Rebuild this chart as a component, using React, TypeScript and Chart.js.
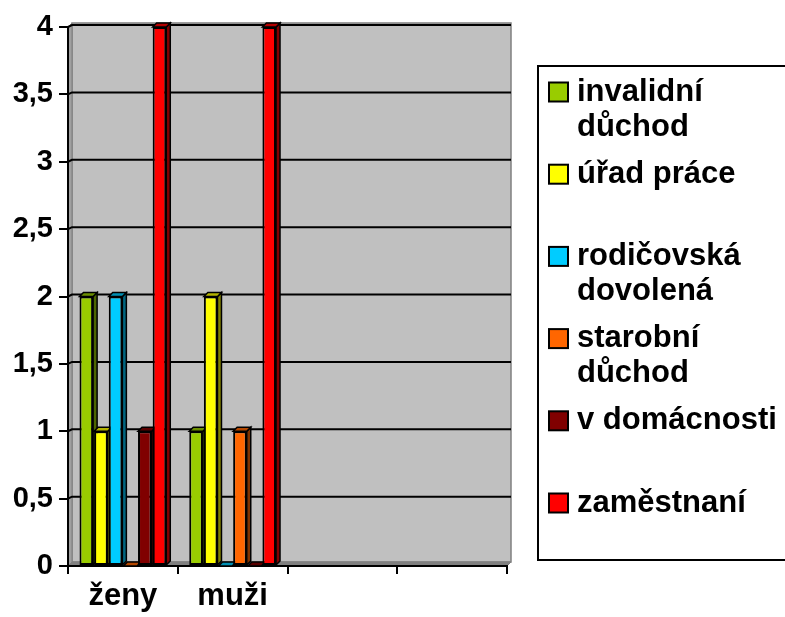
import { useEffect, useRef } from 'react';
import { Chart, registerables } from 'chart.js';

Chart.register(...registerables);

const categories = ['ženy', 'muži', '', ''];
const seriesNames = [
  'invalidní důchod',
  'úřad práce',
  'rodičovská dovolená',
  'starobní důchod',
  'v domácnosti',
  'zaměstnaní',
];
const seriesColors = ['#99CC00', '#FFFF00', '#00CCFF', '#FF6600', '#800000', '#FF0000'];
const invalidniDuchod = [2, 1, null, null];
const uradPrace = [1, 2, null, null];
const rodicovskaDovolena = [2, 0, null, null];
const starobniDuchod = [0, 1, null, null];
const vDomacnosti = [1, 0, null, null];
const zamestnani = [4, 4, null, null];
const seriesValues = [invalidniDuchod, uradPrace, rodicovskaDovolena, starobniDuchod, vDomacnosti, zamestnani];
const yMin = 0;
const yMax = 4;
const yStep = 0.5;

const FONT = 'Arial, "Liberation Sans", sans-serif';
const D = 4;

function shade(hex: string, f: number) {
  const n = parseInt(hex.slice(1), 16);
  const r = Math.round(((n >> 16) & 255) * f);
  const g = Math.round(((n >> 8) & 255) * f);
  const b = Math.round((n & 255) * f);
  return `rgb(${r},${g},${b})`;
}

function poly(ctx: CanvasRenderingContext2D, pts: number[][], fill: string, stroke?: string, lw = 1) {
  ctx.beginPath();
  ctx.moveTo(pts[0][0], pts[0][1]);
  for (let i = 1; i < pts.length; i++) ctx.lineTo(pts[i][0], pts[i][1]);
  ctx.closePath();
  ctx.fillStyle = fill;
  ctx.fill();
  if (stroke) {
    ctx.strokeStyle = stroke;
    ctx.lineWidth = lw;
    ctx.stroke();
  }
}

function wrap(ctx: CanvasRenderingContext2D, text: string, maxW: number) {
  const words = text.split(' ');
  const lines: string[] = [];
  let cur = '';
  for (const w of words) {
    const t = cur ? cur + ' ' + w : w;
    if (cur && ctx.measureText(t).width > maxW) {
      lines.push(cur);
      cur = w;
    } else cur = t;
  }
  if (cur) lines.push(cur);
  return lines;
}

const plugin3d = {
  id: 'excel3d',
  beforeDraw(chart: any) {
    const { ctx, chartArea: a } = chart;
    ctx.save();
    ctx.fillStyle = '#C0C0C0';
    ctx.fillRect(a.left + D, a.top - D, a.right - a.left, a.bottom - a.top);
    ctx.strokeStyle = '#808080';
    ctx.lineWidth = 1.5;
    ctx.strokeRect(a.left + D, a.top - D, a.right - a.left, a.bottom - a.top);
    poly(ctx, [[a.left, a.top], [a.left + D, a.top - D], [a.left + D, a.bottom - D], [a.left, a.bottom]], '#A0A0A0', '#808080', 1);
    poly(ctx, [[a.left, a.bottom], [a.left + D, a.bottom - D], [a.right + D, a.bottom - D], [a.right, a.bottom]], '#808080', '#808080', 1);
    const ys = chart.scales.y;
    ctx.strokeStyle = '#000';
    ctx.lineWidth = 2;
    ys.ticks.forEach((t: any) => {
      if (t.value === yMin) return;
      const py = ys.getPixelForValue(t.value) - 2;
      ctx.beginPath();
      ctx.moveTo(a.left, py + 2);
      ctx.lineTo(a.left + D, py);
      ctx.lineTo(a.right + D, py);
      ctx.stroke();
    });
    ctx.restore();
  },
  beforeDatasetsDraw(chart: any) {
    const { ctx } = chart;
    ctx.save();
    chart.data.datasets.forEach((ds: any, i: number) => {
      const meta = chart.getDatasetMeta(i);
      meta.data.forEach((el: any, j: number) => {
        if (ds.data[j] === null || ds.data[j] === undefined) return;
        const { x, y, base, width } = el.getProps(['x', 'y', 'base', 'width'], true);
        const l = x - width / 2;
        const r = x + width / 2;
        const top = Math.min(y, base);
        const bot = Math.max(y, base);
        const c = ds.backgroundColor as string;
        poly(ctx, [[r, top], [r + D, top - D], [r + D, bot - D], [r, bot]], shade(c, 0.5), '#000', 1.5);
        poly(ctx, [[l, top], [l + D, top - D], [r + D, top - D], [r, top]], shade(c, 0.7), '#000', 1.5);
      });
    });
    ctx.restore();
  },
  afterDraw(chart: any) {
    const { ctx } = chart;
    ctx.save();
    const lx = 538, ly = 66, lb = 560;
    ctx.fillStyle = '#fff';
    ctx.fillRect(lx, ly, 260, lb - ly);
    ctx.strokeStyle = '#000';
    ctx.lineWidth = 2;
    ctx.strokeRect(lx, ly, 260, lb - ly);
    ctx.font = `bold 31px ${FONT}`;
    ctx.textBaseline = 'middle';
    ctx.textAlign = 'left';
    seriesNames.forEach((name, i) => {
      const cy = 92 + i * 82.2;
      ctx.fillStyle = seriesColors[i];
      ctx.fillRect(549, cy - 9.5, 19, 19);
      ctx.strokeStyle = '#000';
      ctx.lineWidth = 2;
      ctx.strokeRect(549, cy - 9.5, 19, 19);
      ctx.fillStyle = '#000';
      wrap(ctx, name, 205).forEach((ln, k) => ctx.fillText(ln, 577, cy + k * 35));
    });
    ctx.restore();
  },
};

export default function App() {
  const ref = useRef<HTMLCanvasElement>(null);
  useEffect(() => {
    document.body.style.margin = '0';
    const chart = new Chart(ref.current!, {
      type: 'bar',
      data: {
        labels: categories,
        datasets: seriesNames.map((name, i) => ({
          label: name,
          data: seriesValues[i],
          backgroundColor: seriesColors[i],
          borderColor: '#000',
          borderWidth: 2,
          borderSkipped: false,
          categoryPercentage: 0.8,
          barPercentage: 0.93,
        })),
      },
      options: {
        animation: false,
        responsive: false,
        devicePixelRatio: 1,
        layout: { padding: { top: 27, right: 278, left: 0, bottom: 0 } },
        plugins: { legend: { display: false }, tooltip: { enabled: false } },
        font: { family: FONT },
        scales: {
          x: {
            afterFit: (s: any) => { s.height = 51; },
            grid: { drawOnChartArea: false, color: '#000', lineWidth: 2, tickLength: 8, offset: true },
            border: { color: '#000', width: 2 },
            ticks: { color: '#000', font: { family: FONT, size: 31, weight: 'bold', lineHeight: 1.2 }, padding: 4, maxRotation: 0, autoSkip: false },
          },
          y: {
            min: yMin,
            max: yMax,
            afterFit: (s: any) => { s.width = 68; },
            grid: { drawOnChartArea: false, color: '#000', lineWidth: 2, tickLength: 9 },
            border: { color: '#000', width: 2 },
            ticks: {
              stepSize: yStep,
              color: '#000',
              padding: 6,
              font: { family: FONT, size: 29, weight: 'bold' },
              callback: (v: any) => String(v).replace('.', ','),
            },
          },
        },
      } as any,
      plugins: [plugin3d],
    });
    return () => chart.destroy();
  }, []);
  return (
    <div style={{ position: 'absolute', left: 0, top: 0, width: 785, height: 617 }}>
      <canvas ref={ref} width={785} height={617} />
    </div>
  );
}
